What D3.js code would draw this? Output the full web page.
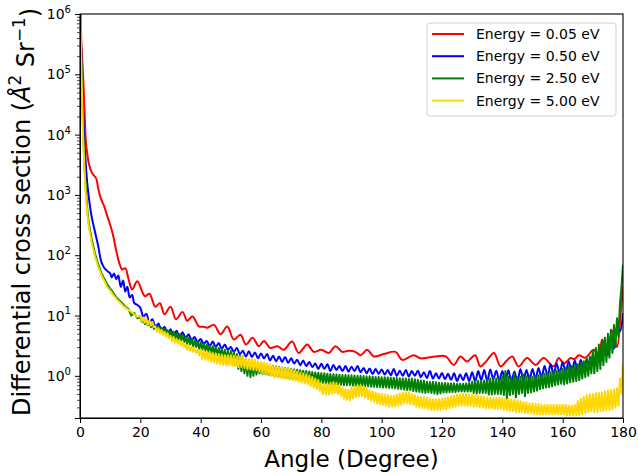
<!DOCTYPE html>
<html>
<head>
<meta charset="utf-8">
<script src="https://cdn.jsdelivr.net/npm/d3@7/dist/d3.min.js"></script>
<style>
  body { margin: 0; background: #fff; }
  svg { display: block; font-family: "DejaVu Sans", sans-serif; }
</style>
</head>
<body>
<div id="chart"></div>
<script>
// ---- data ----
const angleTicks = [0, 20, 40, 60, 80, 100, 120, 140, 160, 180];
const decadeTicks = [1e0, 1e1, 1e2, 1e3, 1e4, 1e5, 1e6];
const seriesLabels = ['Energy = 0.05 eV', 'Energy = 0.50 eV', 'Energy = 2.50 eV', 'Energy = 5.00 eV'];
const seriesColors = ['#ff0000', '#0000ff', '#008000', '#ffd700'];

// 0.05 eV : [angle, value] at peaks / troughs
const redPoints = [
  [0, 1.5e6], [0.5, 3e5], [1, 1e5], [1.5, 2.5e4], [2, 7000], [2.5, 4500], [3, 3200], [4, 2300],
  [5, 2000], [5.5, 1800], [6, 1300], [7, 850], [8, 650], [9, 450], [10, 320], [11, 210], [12, 120],
  [13, 75], [14, 58], [15, 61], [16, 42], [17.3, 27], [19, 37], [21.5, 21], [23, 23], [25, 14],
  [26.5, 16], [28, 10.5], [30, 14], [31.8, 8.7], [34, 11.5], [35.5, 8.2], [37.3, 9.6], [39.4, 6.6],
  [41, 6.5], [42.2, 6.3], [44.4, 7.0], [46.6, 4.9], [48.8, 6.6], [51, 4.0], [53.2, 4.8], [55, 3.3],
  [57.2, 4.3], [59.3, 3.1], [61, 3.8], [63.1, 2.9], [65.5, 3.1], [67.5, 2.7], [70.3, 3.7], [72.5, 2.4],
  [75.3, 3.3], [77.5, 2.5], [80, 2.7], [82.5, 2.4], [84.7, 3.1], [86.9, 2.5], [89, 2.6], [91.3, 2.5],
  [93, 2.2], [95.2, 2.7], [97.4, 2.1], [100.7, 2.3], [104.6, 2.5], [106.8, 1.84], [110.6, 2.2],
  [112.9, 1.95], [115, 2.0], [117.8, 2.1], [121.2, 2.1], [123.9, 1.52], [126.1, 2.1], [128.3, 1.73],
  [131, 2.2], [132.7, 1.43], [134.5, 1.7], [137.2, 2.4], [139.4, 1.43], [141.5, 1.8], [143.3, 2.1],
  [145.4, 1.43], [148.2, 1.97], [151, 1.52], [153.7, 1.97], [157, 1.43], [158.7, 1.97], [160.4, 1.6],
  [162.6, 1.97], [164, 1.9], [165.3, 2.2], [167.5, 2.0], [170.3, 2.7], [172, 2.0], [173.1, 4.0],
  [174.7, 2.4], [176.4, 5.6], [178, 3.0], [179.3, 12], [180, 30]
];

// 0.50 eV : head as [angle, value], tail every 1 degree from 20
const blueHead = [
  [0, 1.5e6], [0.5, 1.5e5], [1, 2.5e4], [1.5, 7000], [2, 2800], [2.5, 1400], [3, 850], [3.5, 560],
  [4, 400], [5, 240], [6, 145], [7, 80], [8, 62], [9, 55], [10, 50], [10.5, 43], [11.3, 50], [12, 40],
  [12.7, 46], [13.5, 30], [14.3, 38], [15, 25], [15.7, 30], [16.5, 20], [17.3, 22], [18, 16], [19, 15]
];
const blueTail = [
  13.4, 9.6, 10.7, 7.7, 8.7, 6.3, 7.4, 5.5, 6.5, 4.9,
  5.9, 4.6, 5.6, 4.4, 5.3, 4.2, 4.9, 3.9, 4.4, 3.6,
  4.1, 3.4, 3.8, 3.1, 3.7, 3.0, 3.5, 2.8, 3.3, 2.7,
  3.0, 2.5, 2.9, 2.3, 2.6, 2.1, 2.55, 2.05, 2.45, 1.95,
  2.35, 1.95, 2.3, 1.8, 2.15, 1.75, 2.1, 1.7, 2.05, 1.65,
  1.95, 1.6, 1.85, 1.5, 1.8, 1.45, 1.7, 1.4, 1.6, 1.3,
  1.58, 1.3, 1.55, 1.2, 1.52, 1.25, 1.45, 1.2, 1.45, 1.18,
  1.42, 1.2, 1.45, 1.15, 1.35, 1.1, 1.32, 1.07, 1.3, 1.08,
  1.28, 1.05, 1.25, 1.02, 1.3, 1.0, 1.22, 1.0, 1.25, 0.98,
  1.2, 1.0, 1.22, 0.95, 1.15, 0.92, 1.2, 0.9, 1.1, 0.9,
  1.12, 0.88, 1.08, 0.86, 1.1, 0.82, 1.05, 0.85, 1.1, 0.82,
  1.15, 0.8, 1.2, 0.85, 1.25, 0.82, 1.28, 0.88, 1.22, 0.82,
  1.2, 0.8, 1.25, 0.78, 1.18, 0.8, 1.3, 0.82, 1.25, 0.85,
  1.3, 0.88, 1.35, 0.92, 1.45, 1.0, 1.55, 1.05, 1.6, 1.1,
  1.7, 1.12, 1.75, 1.15, 1.8, 1.2, 1.85, 1.2, 1.9, 1.3,
  2.2, 1.5, 2.6, 1.8, 3.0, 2.2, 3.8, 2.8, 6.5, 5.5, 11
];

// 2.50 eV : head as [angle, value], tail every 0.5 degree from 20
const greenHead = [
  [0, 2e6], [0.5, 1.2e5], [1, 1.3e4], [1.5, 3000], [2, 1100], [2.5, 520], [3, 320], [4, 170],
  [5, 105], [6, 72], [7, 52], [8, 41], [9, 33], [10, 28], [11, 24], [12, 20], [13, 18], [14, 16],
  [15, 14], [16, 13], [17, 10], [18, 11], [19, 9]
];
const greenTail = [
  9.4, 7.8, 8.9, 7.2, 8.4, 6.9, 7.9, 6.4, 7.4, 6.0,
  6.9, 5.7, 6.6, 5.4, 6.3, 5.3, 6.0, 5.0, 5.7, 4.6,
  5.6, 4.3, 5.4, 4.1, 5.2, 4.0, 4.9, 3.9, 4.7, 3.6,
  4.5, 3.4, 4.3, 3.3, 4.1, 3.1, 3.9, 3.0, 3.7, 2.8,
  3.6, 2.7, 3.4, 2.6, 3.3, 2.5, 3.2, 2.4, 3.1, 2.3,
  3.0, 2.2, 2.9, 2.1, 2.8, 2.0, 2.7, 1.9, 2.6, 1.8,
  2.6, 1.6, 2.5, 1.5, 2.3, 1.3, 2.2, 1.2, 2.1, 1.1,
  1.9, 1.0, 1.8, 0.95, 1.7, 1.0, 1.7, 1.05, 1.6, 1.1,
  1.6, 1.08, 1.57, 1.06, 1.52, 1.03, 1.5, 1.01, 1.47, 1.0,
  1.43, 0.97, 1.4, 0.95, 1.38, 0.94, 1.35, 0.92, 1.33, 0.9,
  1.3, 0.89, 1.28, 0.88, 1.26, 0.86, 1.24, 0.85, 1.22, 0.84,
  1.2, 0.83, 1.18, 0.82, 1.16, 0.8, 1.14, 0.79, 1.13, 0.78,
  1.11, 0.76, 1.1, 0.75, 1.08, 0.74, 1.07, 0.73, 1.06, 0.72,
  1.05, 0.72, 1.04, 0.71, 1.03, 0.7, 1.03, 0.7, 1.02, 0.7,
  1.02, 0.69, 1.01, 0.69, 1.0, 0.68, 1.0, 0.68, 0.99, 0.67,
  0.98, 0.67, 0.98, 0.66, 0.97, 0.66, 0.96, 0.65, 0.96, 0.65,
  0.95, 0.64, 0.95, 0.64, 0.94, 0.63, 0.93, 0.63, 0.93, 0.62,
  0.92, 0.61, 0.91, 0.6, 0.9, 0.59, 0.9, 0.58, 0.89, 0.58,
  0.9, 0.56, 0.88, 0.55, 0.86, 0.54, 0.84, 0.53, 0.83, 0.52,
  0.8, 0.53, 0.79, 0.52, 0.8, 0.51, 0.78, 0.5, 0.77, 0.51,
  0.76, 0.53, 0.76, 0.53, 0.75, 0.54, 0.75, 0.54, 0.75, 0.54,
  0.74, 0.55, 0.74, 0.55, 0.74, 0.55, 0.75, 0.55, 0.76, 0.55,
  0.8, 0.52, 0.82, 0.51, 0.83, 0.52, 0.82, 0.52, 0.84, 0.52,
  0.88, 0.49, 0.9, 0.49, 0.92, 0.5, 0.9, 0.5, 0.92, 0.5,
  0.95, 0.48, 1.2, 0.42, 0.96, 0.48, 0.94, 0.5, 1.1, 0.44,
  0.95, 0.5, 0.96, 0.52, 1.05, 0.46, 0.98, 0.52, 1.0, 0.53,
  0.96, 0.55, 1.0, 0.57, 1.02, 0.6, 1.06, 0.62, 1.08, 0.64,
  1.12, 0.65, 1.15, 0.67, 1.2, 0.7, 1.22, 0.72, 1.25, 0.74,
  1.3, 0.72, 1.35, 0.75, 1.4, 0.78, 1.45, 0.8, 1.5, 0.82,
  1.55, 0.85, 1.65, 0.9, 1.75, 0.95, 1.9, 1.0, 2.1, 1.1,
  2.6, 1.1, 2.9, 1.2, 3.3, 1.3, 3.8, 1.5, 4.3, 1.7,
  5.0, 2.0, 5.8, 2.4, 7.0, 3.0, 9.0, 4.5, 16, 30,
  70
];

// 5.00 eV : head as [angle, value], tail every 0.5 degree from 20
const yellowHead = [
  [0, 2e6], [0.5, 1e5], [1, 1e4], [1.5, 2500], [2, 900], [2.5, 450], [3, 280], [4, 150],
  [5, 95], [6, 65], [7, 48], [8, 38], [9, 30], [10, 26], [11, 22], [12, 19], [13, 17], [14, 15],
  [15, 13.5], [16, 12.5], [17, 11.5], [18, 10.5], [19, 9.5]
];
const yellowTail = [
  9.9, 8.0, 9.3, 7.6, 8.9, 7.1, 8.3, 6.8, 7.8, 6.4,
  6.6, 5.4, 6.2, 5.1, 5.8, 4.8, 5.4, 4.5, 5.1, 4.2,
  4.6, 3.8, 4.4, 3.6, 4.1, 3.4, 3.9, 3.2, 3.7, 3.0,
  3.3, 2.7, 3.2, 2.6, 3.0, 2.5, 2.9, 2.4, 2.7, 2.2,
  2.75, 1.9, 2.65, 1.85, 2.55, 1.8, 2.5, 1.7, 2.4, 1.65,
  2.35, 1.6, 2.3, 1.55, 2.25, 1.5, 2.2, 1.5, 2.2, 1.48,
  2.2, 1.45, 2.15, 1.45, 2.1, 1.4, 2.05, 1.4, 2.05, 1.35,
  1.95, 1.28, 1.9, 1.28, 1.9, 1.24, 1.85, 1.24, 1.75, 1.18,
  1.7, 1.12, 1.65, 1.08, 1.6, 1.04, 1.55, 0.99, 1.45, 0.94,
  1.4, 0.94, 1.38, 0.92, 1.36, 0.9, 1.33, 0.89, 1.3, 0.87,
  1.27, 0.85, 1.22, 0.83, 1.17, 0.8, 1.12, 0.77, 1.09, 0.75,
  1.06, 0.72, 1.01, 0.68, 0.96, 0.64, 0.9, 0.6, 0.85, 0.57,
  0.76, 0.5, 0.74, 0.49, 0.74, 0.49, 0.76, 0.51, 0.78, 0.52,
  0.76, 0.5, 0.7, 0.46, 0.64, 0.42, 0.6, 0.4, 0.59, 0.39,
  0.64, 0.42, 0.67, 0.44, 0.7, 0.46, 0.7, 0.46, 0.68, 0.44,
  0.62, 0.41, 0.58, 0.39, 0.55, 0.37, 0.53, 0.35, 0.51, 0.34,
  0.5, 0.33, 0.49, 0.32, 0.48, 0.31, 0.47, 0.31, 0.47, 0.31,
  0.49, 0.32, 0.51, 0.33, 0.53, 0.35, 0.54, 0.35, 0.53, 0.34,
  0.5, 0.33, 0.48, 0.31, 0.46, 0.3, 0.45, 0.29, 0.44, 0.29,
  0.43, 0.28, 0.42, 0.27, 0.41, 0.27, 0.41, 0.27, 0.41, 0.27,
  0.42, 0.28, 0.43, 0.28, 0.44, 0.29, 0.46, 0.3, 0.47, 0.31,
  0.49, 0.32, 0.49, 0.32, 0.5, 0.32, 0.5, 0.32, 0.49, 0.32,
  0.49, 0.31, 0.48, 0.31, 0.47, 0.3, 0.46, 0.3, 0.45, 0.29,
  0.44, 0.29, 0.44, 0.29, 0.43, 0.28, 0.43, 0.28, 0.43, 0.28,
  0.43, 0.27, 0.42, 0.27, 0.42, 0.26, 0.41, 0.26, 0.4, 0.25,
  0.39, 0.25, 0.38, 0.25, 0.37, 0.24, 0.36, 0.24, 0.35, 0.24,
  0.35, 0.23, 0.34, 0.23, 0.34, 0.23, 0.33, 0.23, 0.33, 0.23,
  0.33, 0.23, 0.33, 0.23, 0.33, 0.23, 0.33, 0.23, 0.33, 0.23,
  0.33, 0.23, 0.33, 0.22, 0.32, 0.22, 0.32, 0.22, 0.33, 0.22,
  0.38, 0.22, 0.42, 0.23, 0.45, 0.24, 0.48, 0.25, 0.5, 0.26,
  0.5, 0.25, 0.52, 0.25, 0.52, 0.26, 0.53, 0.26, 0.55, 0.27,
  0.57, 0.27, 0.58, 0.28, 0.6, 0.3, 0.62, 0.32, 0.9, 0.5,
  1.6
];

function withTail(head, tail, start, step) {
  return head.concat(tail.map((v, i) => [start + i * step, v]));
}

const series = [
  { points: redPoints, curve: d3.curveCatmullRom },
  { points: withTail(blueHead, blueTail, 20, 1), curve: d3.curveCatmullRom },
  { points: withTail(greenHead, greenTail, 20, 0.5), curve: d3.curveLinear },
  { points: withTail(yellowHead, yellowTail, 20, 0.5), curve: d3.curveLinear }
];

// ---- layout ----
const W = 638, H = 475;
const margin = { top: 14, right: 15, bottom: 57, left: 80 };
const width = W - margin.left - margin.right;
const height = H - margin.top - margin.bottom;

const svg = d3.select('#chart').append('svg')
  .attr('width', W)
  .attr('height', H);

const g = svg.append('g')
  .attr('transform', 'translate(' + margin.left + ',' + margin.top + ')');

const x = d3.scaleLinear().domain([0, 180]).range([0, width]);
const y = d3.scaleLog().domain([0.2, 1e6]).range([height, 0]);

svg.append('defs').append('clipPath').attr('id', 'plot-clip')
  .append('rect').attr('width', width).attr('height', height);

const lines = g.append('g').attr('clip-path', 'url(#plot-clip)');

series.forEach((s, i) => {
  const line = d3.line()
    .x(d => x(d[0]))
    .y(d => y(d[1]))
    .curve(s.curve);
  lines.append('path')
    .datum(s.points)
    .attr('fill', 'none')
    .attr('stroke', seriesColors[i])
    .attr('stroke-width', 2)
    .attr('stroke-linejoin', 'round')
    .attr('d', line);
});

// x axis
const xAxis = g.append('g')
  .attr('transform', 'translate(0,' + height + ')')
  .call(d3.axisBottom(x).tickValues(angleTicks).tickSize(5).tickPadding(4).tickFormat(d3.format('d')));

// y axis, minor ticks
const minorTicks = [];
[0.1, 1, 10, 100, 1e3, 1e4, 1e5].forEach(dec => {
  for (let k = 2; k <= 9; k++) {
    const v = dec * k;
    if (v >= 0.2 && v < 1e6) minorTicks.push(v);
  }
});
g.append('g')
  .attr('class', 'minor')
  .call(d3.axisLeft(y).tickValues(minorTicks).tickSize(3).tickFormat(''))
  .call(a => a.select('.domain').remove());

const yAxis = g.append('g')
  .call(d3.axisLeft(y).tickValues(decadeTicks).tickSize(5).tickPadding(4).tickFormat(''));

yAxis.selectAll('.tick text').each(function(d) {
  const t = d3.select(this);
  t.text('10');
  t.append('tspan')
    .attr('dy', '-0.6em')
    .attr('font-size', '0.72em')
    .text(Math.round(Math.log10(d)));
});

[xAxis, yAxis].forEach(a => {
  a.selectAll('text').attr('font-family', '"DejaVu Sans", sans-serif').attr('font-size', 14).attr('fill', '#000');
  a.selectAll('line').attr('stroke', '#000');
});
g.selectAll('.minor line').attr('stroke', '#000').attr('stroke-width', 0.7);

// frame
g.append('rect')
  .attr('width', width)
  .attr('height', height)
  .attr('fill', 'none')
  .attr('stroke', '#000')
  .attr('stroke-width', 1.1);

// axis labels
svg.append('text')
  .attr('x', margin.left + width / 2)
  .attr('y', 467)
  .attr('text-anchor', 'middle')
  .attr('font-size', 23)
  .text('Angle (Degree)');

const yLabel = svg.append('text')
  .attr('transform', 'translate(30,' + (margin.top + height / 2 - 4) + ') rotate(-90)')
  .attr('text-anchor', 'middle')
  .attr('font-size', 24);
yLabel.append('tspan').text('Differential cross section (');
yLabel.append('tspan').attr('font-style', 'italic').text('Å');
yLabel.append('tspan').attr('dy', '-0.55em').attr('font-size', '0.7em').text('2');
yLabel.append('tspan').attr('dy', '0.55em').text(' Sr');
yLabel.append('tspan').attr('dy', '-0.55em').attr('font-size', '0.7em').text('−1');
yLabel.append('tspan').attr('dy', '0.55em').text(')');

// legend
const legend = svg.append('g').attr('transform', 'translate(427,23)');
legend.append('rect')
  .attr('width', 189)
  .attr('height', 93)
  .attr('rx', 3)
  .attr('fill', '#fff')
  .attr('fill-opacity', 0.8)
  .attr('stroke', '#d0d0d0');

seriesLabels.forEach((label, i) => {
  const row = legend.append('g').attr('transform', 'translate(0,' + (11 + i * 22.2) + ')');
  row.append('line')
    .attr('x1', 5).attr('x2', 37)
    .attr('stroke', seriesColors[i])
    .attr('stroke-width', 2);
  row.append('text')
    .attr('x', 49)
    .attr('dy', '0.36em')
    .attr('font-size', 14)
    .attr('fill', '#000')
    .text(label);
});
</script>
</body>
</html>
